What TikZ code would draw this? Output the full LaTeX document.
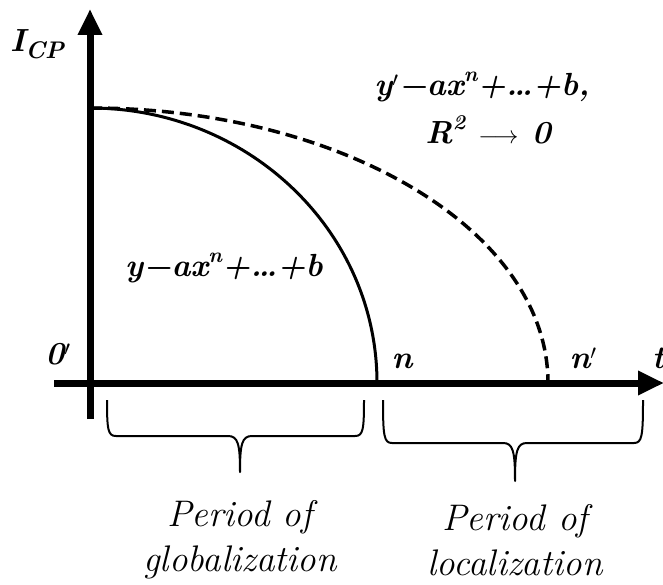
\documentclass[tikz,border=0pt]{standalone}
\usepackage{fontspec}
\usetikzlibrary{arrows.meta}
\newcommand{\supx}[1]{\raisebox{0.42em}{\fontsize{21}{21}\selectfont #1}}
\tikzset{
  axis/.style={line width=7pt,-{Triangle[length=26pt,width=23pt]}},
  curve/.style={line width=3pt},
  dcurve/.style={line width=3.5pt,dash pattern=on 12pt off 6pt},
  brace/.style={line width=2pt,line join=round},
  lbl/.style={font=\fontsize{32}{34}\selectfont\bfseries\itshape, inner sep=0pt},
  captxt/.style={font=\fontsize{37}{45}\selectfont\itshape, align=center, inner sep=0pt}
}
\begin{document}
\begin{tikzpicture}[x=1pt,y=-1pt]
\useasboundingbox (0,0) rectangle (663,585);
\coordinate (ytop) at (90,9);
\coordinate (ybot) at (90,419);
\coordinate (xl) at (54,383);
\coordinate (xr) at (664,383);
\coordinate (o) at (90,108);
\coordinate (nn) at (377,383);
\coordinate (np) at (548,383);
\draw[axis] (ybot) -- (ytop);
\draw[axis] (xl) -- (xr);
\draw[curve] (o) arc[start angle=90,end angle=0,x radius=287,y radius=-275];
\draw[dcurve] (o) arc[start angle=90,end angle=0,x radius=458,y radius=-275];
% braces
\coordinate (b1l) at (107,400);
\coordinate (b1r) at (364,400);
\coordinate (b1c) at (240,472);
\draw[brace] (b1l) .. controls (107,430) and (108,436) .. (116,436) -- (228,436)
  .. controls (238,436) and (240,444) .. (b1c)
  .. controls (240,444) and (242,436) .. (252,436) -- (355,436)
  .. controls (363,436) and (364,430) .. (b1r);
\coordinate (b2l) at (383,400);
\coordinate (b2r) at (643,400);
\coordinate (b2c) at (515,481);
\draw[brace] (b2l) .. controls (383,436) and (384,443) .. (392,443) -- (503,443)
  .. controls (513,443) and (515,451) .. (b2c)
  .. controls (515,451) and (517,443) .. (527,443) -- (634,443)
  .. controls (642,443) and (643,436) .. (b2r);
% labels
\node[lbl, anchor=west] (icp) at (10,44) {I\raisebox{-0.22em}{\fontsize{24}{24}\selectfont CP}};
\node[lbl] (eq1) at (482,87) {y$'$−ax\supx{n}+…+b,};
\node[lbl] (eq2) at (488,130) {R\supx{2} $\longrightarrow$ 0};
\node[lbl] (eq3) at (224,268) {y−ax\supx{n}+…+b};
\node[lbl] (zero) at (58,354) {0$'$};
\node[lbl] (nlab) at (402,361) {n};
\node[lbl] (nplab) at (583,358) {n$'$};
\node[lbl, anchor=west] (tlab) at (652,358) {t};
\node[captxt] (c1) at (240,540) {Period of\\globalization};
\node[captxt] (c2) at (515,540) {Period of\\localization};
\end{tikzpicture}
\end{document}
